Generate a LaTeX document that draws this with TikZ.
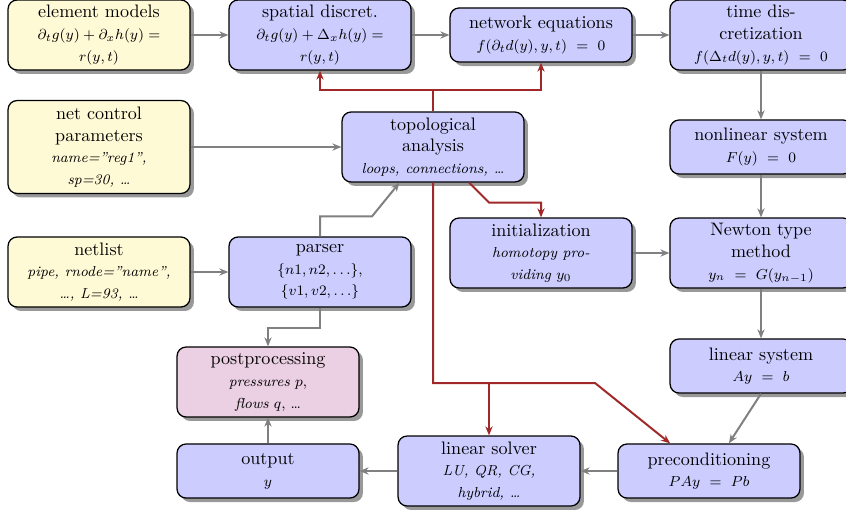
\documentclass[tikz,border=0pt]{standalone}
\usetikzlibrary{shadows,arrows.meta,calc}
\definecolor{boxblue}{RGB}{204,204,255}
\definecolor{boxyellow}{RGB}{255,250,214}
\definecolor{boxpink}{RGB}{235,207,227}
\definecolor{linkred}{RGB}{160,40,40}
\definecolor{linkgray}{RGB}{128,128,128}
\newcommand{\sm}[1]{{\footnotesize #1}}
\tikzset{
  box/.style={draw=black, line width=0.7pt, rounded corners=5pt,
    minimum width=100.6pt, align=center, inner xsep=2pt, inner ysep=2pt,
    drop shadow={shadow xshift=2.2pt, shadow yshift=-2.2pt, fill=black!40, opacity=1},
    font=\normalsize},
  bbox/.style={box, fill=boxblue},
  ybox/.style={box, fill=boxyellow},
  pbox/.style={box, fill=boxpink},
  htwo/.style={minimum height=29.9pt},
  hthree/.style={minimum height=38.7pt},
  hfour/.style={minimum height=51.4pt},
  garrow/.style={draw=linkgray, line width=1.1pt, -{Stealth[length=5pt,width=4pt]}},
  rline/.style={draw=linkred, line width=1.1pt},
  rarrow/.style={draw=linkred, line width=1.1pt, -{Stealth[length=5pt,width=4pt]}}
}
\begin{document}
\begin{tikzpicture}[x=0.553pt,y=-0.553pt]
\useasboundingbox (0,0) rectangle (846,512);
% nodes
\node[ybox,hthree] (em) at (99,35) {element models\\\sm{$\partial_t g(y)+\partial_x h(y)=$}\\\sm{$r(y,t)$}};
\node[bbox,hthree] (sd) at (320,35) {spatial discret.\\\sm{$\partial_t g(y)+\Delta_x h(y)=$}\\\sm{$r(y,t)$}};
\node[bbox,htwo] (ne) at (541,35) {network equations\\\sm{$f(\partial_t d(y),y,t)\ =\ 0$}};
\node[bbox,hthree] (td) at (761,35) {time dis-\\cretization\\\sm{$f(\Delta_t d(y),y,t)\ =\ 0$}};
\node[ybox,hfour] (ncp) at (99,147) {net control\\parameters\\\sm{\textit{name="reg1",}}\\\sm{\textit{sp=30, \dots}}};
\node[bbox,hthree] (topo) at (433,147) {topological\\analysis\\\sm{\textit{loops, connections, \dots}}};
\node[bbox,htwo] (nl) at (761,147) {nonlinear system\\\sm{$F(y)\ =\ 0$}};
\node[bbox,hthree] (init) at (541,253) {initialization\\\sm{\textit{homotopy pro-}}\\\sm{\textit{viding} $y_0$}};
\node[bbox,hthree] (nt) at (761,253) {Newton type\\method\\\sm{$y_n\ =\ G(y_{n-1})$}};
\node[ybox,hthree] (net) at (99,272) {netlist\\\sm{\textit{pipe, rnode="name",}}\\\sm{\textit{\dots, L=93, \dots}}};
\node[bbox,hthree] (ps) at (320,272) {parser\\\sm{$\{n1,n2,\dots\}$,}\\\sm{$\{v1,v2,\dots\}$}};
\node[pbox,hthree] (pp) at (268,382) {postprocessing\\\sm{\textit{pressures} $p$,}\\\sm{\textit{flows} $q$, \dots}};
\node[bbox,htwo] (ls) at (761,366) {linear system\\\sm{$Ay\ =\ b$}};
\node[bbox,htwo] (out) at (268,471) {output\\\sm{$y$}};
\node[bbox,hthree] (lsol) at (489,471) {linear solver\\\sm{\textit{LU, QR, CG,}}\\\sm{\textit{hybrid, \dots}}};
\node[bbox,htwo] (pre) at (709,471) {preconditioning\\\sm{$PAy\ =\ Pb$}};
% gray connectors
\draw[garrow] (em) -- (sd);
\draw[garrow] (sd) -- (ne);
\draw[garrow] (ne) -- (td);
\draw[garrow] (td) -- (nl);
\draw[garrow] (nl) -- (nt);
\draw[garrow] (nt) -- (ls);
\draw[garrow] (ls.south) -- ([xshift=11pt]pre.north);
\draw[garrow] (pre) -- (lsol);
\draw[garrow] (lsol) -- (out);
\draw[garrow] (out) -- (pp);
\draw[garrow] (ncp) -- (topo);
\draw[garrow] (net) -- (ps);
\draw[garrow] (init) -- (nt);
\draw[garrow] (ps.north) -- ++(0,-20) -- ++(52,0) -- ([xshift=-18.5pt]topo.south);
\draw[garrow] (ps.south) -- ++(0,20) -| (pp.north);
% red connectors
\coordinate (rtop) at (433,90);
\coordinate (rbot) at (433,383);
\coordinate (rbend) at (595,383);
\draw[rline] (topo.north) -- (rtop);
\draw[rarrow] (rtop) -| (sd.south);
\draw[rarrow] (rtop) -| (ne.south);
\draw[rarrow] (topo.south) -- (rbot) -- (rbend) -- ([xshift=-21.5pt]pre.north);
\draw[rarrow] (lsol.north |- rbot) -- (lsol.north);
\draw[rarrow] ([xshift=20pt]topo.south) -- ++(20,20) -| (init.north);
\end{tikzpicture}
\end{document}
